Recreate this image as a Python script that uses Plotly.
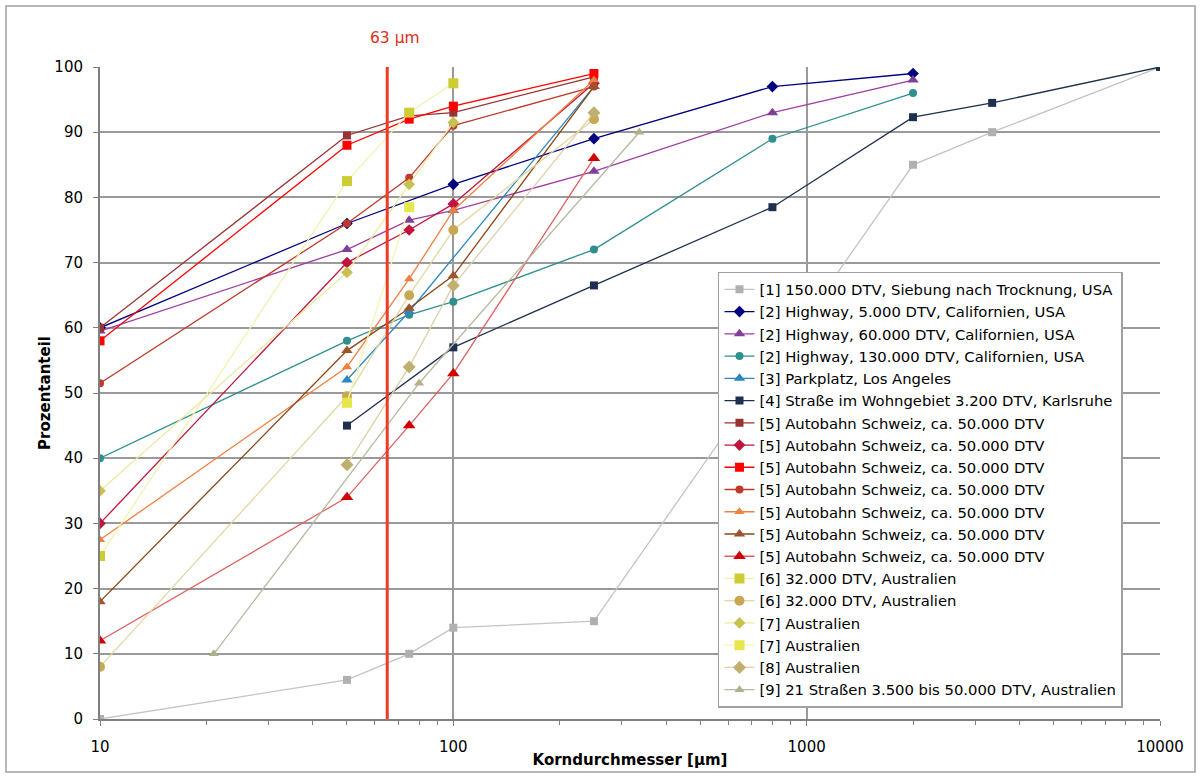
import math
import plotly.graph_objects as go

# ---- data ----
names = [
    "[1] 150.000 DTV, Siebung nach Trocknung, USA",
    "[2] Highway, 5.000 DTV, Californien, USA",
    "[2] Highway, 60.000 DTV, Californien, USA",
    "[2] Highway, 130.000 DTV, Californien, USA",
    "[3] Parkplatz, Los Angeles",
    "[4] Straße im Wohngebiet 3.200 DTV, Karlsruhe",
    "[5] Autobahn Schweiz, ca. 50.000 DTV",
    "[5] Autobahn Schweiz, ca. 50.000 DTV",
    "[5] Autobahn Schweiz, ca. 50.000 DTV",
    "[5] Autobahn Schweiz, ca. 50.000 DTV",
    "[5] Autobahn Schweiz, ca. 50.000 DTV",
    "[5] Autobahn Schweiz, ca. 50.000 DTV",
    "[5] Autobahn Schweiz, ca. 50.000 DTV",
    "[6] 32.000 DTV, Australien",
    "[6] 32.000 DTV, Australien",
    "[7] Australien",
    "[7] Australien",
    "[8] Australien",
    "[9] 21 Straßen 3.500 bis 50.000 DTV, Australien",
]

x1 = [10, 50, 75, 100, 250, 2000, 3350, 10000]
y1 = [0, 6, 10, 14, 15, 85, 90, 100]
x2 = [10, 50, 100, 250, 800, 2000]
y2 = [60, 76, 82, 89, 97, 99]
x3 = [10, 50, 75, 100, 250, 800, 2000]
y3 = [59.5, 72, 76.5, 78, 84, 93, 98]
x4 = [10, 50, 75, 100, 250, 800, 2000]
y4 = [40, 58, 62, 64, 72, 89, 96]
x5 = [50, 75, 250]
y5 = [52, 62.5, 97]
x6 = [50, 100, 250, 800, 2000, 3350, 10000]
y6 = [45, 57, 66.5, 78.5, 92.3, 94.5, 100]
x7 = [10, 50, 75, 100, 250]
y7 = [60, 89.5, 92.5, 93, 98.5]
x8 = [10, 50, 75, 100, 250]
y8 = [30, 70, 75, 79, 97.5]
x9 = [10, 50, 75, 100, 250]
y9 = [58, 88, 92, 94, 99]
x10 = [10, 50, 75, 100, 250]
y10 = [51.5, 76, 83, 91, 97]
x11 = [10, 50, 75, 100, 250]
y11 = [27.5, 54, 67.5, 78, 98]
x12 = [10, 50, 75, 100, 250]
y12 = [18, 56.5, 63, 68, 97]
x13 = [10, 50, 75, 100, 250]
y13 = [12, 34, 45, 53, 86]
x14 = [10, 50, 75, 100]
y14 = [25, 82.5, 93, 97.5]
x15 = [10, 50, 75, 100, 250]
y15 = [8, 49.5, 65, 75, 92]
x16 = [10, 50, 75, 100]
y16 = [35, 68.5, 82, 91.5]
x17 = [50, 75]
y17 = [48.5, 78.5]
x18 = [50, 75, 100, 250]
y18 = [39, 54, 66.5, 93]
x19 = [21, 80, 336]
y19 = [10, 51.5, 90]

xs = [x1, x2, x3, x4, x5, x6, x7, x8, x9, x10, x11, x12, x13, x14, x15, x16, x17, x18, x19]
ys = [y1, y2, y3, y4, y5, y6, y7, y8, y9, y10, y11, y12, y13, y14, y15, y16, y17, y18, y19]

line_colors = ["#C4C4C4", "#000080", "#A03CA0", "#2F8F8F", "#2E86C1", "#1F2F4F",
               "#993333", "#C0143C", "#FF0000", "#C0392B", "#F08040", "#8B4513",
               "#E06060", "#F2F2B0", "#E0D8A0", "#EAEAA0", "#F4F4B8", "#E0D0A8", "#B8B8A0"]
marker_colors = ["#B0B0B0", "#000080", "#7F3F98", "#2F8F8F", "#2E86C1", "#1F2F4F",
                 "#993333", "#C0143C", "#FF0000", "#C0392B", "#F08040", "#A0522D",
                 "#D00000", "#CCCC33", "#C8A850", "#C8C050", "#E6E64D", "#C0B070", "#B0B08A"]
symbols = ["square", "diamond", "triangle-up", "circle", "triangle-up", "square",
           "square", "diamond", "square", "circle", "triangle-up", "triangle-up",
           "triangle-up", "square", "circle", "diamond", "square", "diamond", "triangle-up"]
sizes = [8, 9, 10, 8, 10, 8, 8, 9, 9, 8, 9, 10, 11, 10, 10, 9, 10, 10, 9]

marker_x = 65          # position of the red "63 µm" line (as drawn)
marker_label = "63 µm"

FONT = "DejaVu Sans, Liberation Sans, Arial"

fig = go.Figure()
for i in range(len(names)):
    fig.add_trace(go.Scatter(
        x=xs[i], y=ys[i], name=names[i], mode="lines+markers",
        line=dict(color=line_colors[i], width=1.3),
        marker=dict(symbol=symbols[i], color=marker_colors[i], size=sizes[i],
                    line=dict(width=0)),
    ))

# 63 µm marker line
fig.add_shape(type="line", xref="x", yref="paper", x0=marker_x, x1=marker_x, y0=0, y1=1,
              line=dict(color="#F03A24", width=3))
fig.add_annotation(text=marker_label, x=math.log10(marker_x), xref="x", y=1, yref="paper",
                   yshift=18, xshift=8, yanchor="bottom", xanchor="center", showarrow=False,
                   font=dict(color="#E03020", size=15.5, family=FONT))
# chart border
fig.add_shape(type="rect", xref="paper", yref="paper",
              x0=-94/1060, x1=1 + 35/1060, y0=-53/652, y1=1 + 61/652,
              line=dict(color="#A0A0A0", width=1.5), layer="below")

fig.update_layout(
    width=1201, height=778,
    margin=dict(l=100, r=41, t=67, b=59),
    paper_bgcolor="white", plot_bgcolor="white",
    font=dict(family=FONT, size=15, color="#000000"),
    showlegend=True,
    legend=dict(x=0.583, y=0.686, xanchor="left", yanchor="top",
                bgcolor="white", bordercolor="#A0A0A0", borderwidth=1.5,
                font=dict(size=14.8, family=FONT), tracegroupgap=0, itemwidth=30),
    xaxis=dict(type="log", range=[1, 4], tickvals=[10, 100, 1000, 10000],
               ticktext=["10", "100", "1000", "10000"],
               showgrid=True, gridcolor="#9A9A9A", gridwidth=1.5,
               showline=True, linecolor="#808080", linewidth=1.5,
               ticks="outside", ticklen=5, tickcolor="#808080", ticklabelstandoff=8,
               minor=dict(dtick="D1", ticks="outside", ticklen=4, tickcolor="#808080", showgrid=False),
               title=dict(text="<b>Korndurchmesser [µm]</b>", standoff=0, font=dict(size=15)),
               zeroline=False, mirror=False),
    yaxis=dict(range=[0, 100], dtick=10, showgrid=True, gridcolor="#9A9A9A", gridwidth=1.5,
               showline=True, linecolor="#808080", linewidth=2,
               ticks="outside", ticklen=5, tickcolor="#808080", ticklabelstandoff=7,
               title=dict(text="<b>Prozentanteil</b>", standoff=0, font=dict(size=15)),
               zeroline=False),
)

fig.write_html("out.html", config={"displayModeBar": False},
               post_script="document.body.style.margin='0';document.body.style.overflow='hidden';")
